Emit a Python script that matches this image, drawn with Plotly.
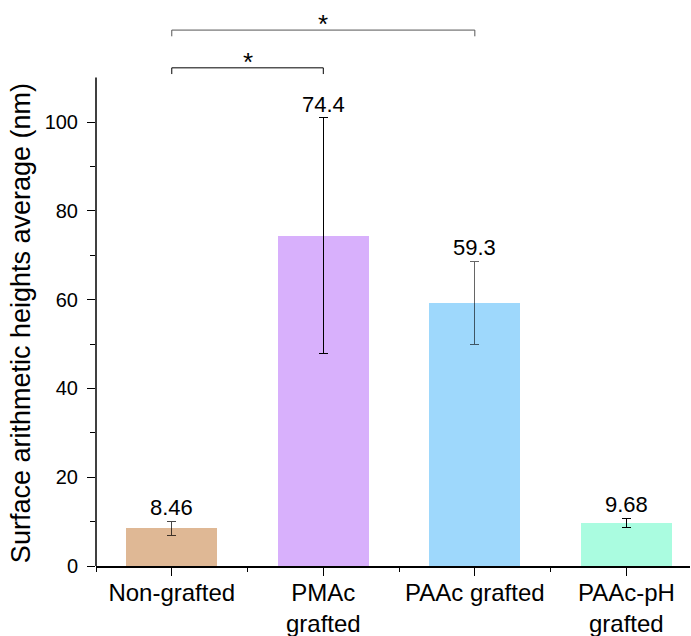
import plotly.graph_objects as go

# ---- data ----
categories = ["Non-grafted", "PMAc<br>grafted", "PAAc grafted", "PAAc-pH<br>grafted"]
values = [8.46, 74.4, 59.3, 9.68]
errors = [1.65, 26.6, 9.3, 1.05]
value_labels = ["8.46", "74.4", "59.3", "9.68"]
bar_colors = ["#DFB895", "#D8B0FC", "#9ED8FC", "#AAFCE0"]
err_colors = ["rgba(0,0,0,0.72)", "#000000", "rgba(0,0,0,0.6)", "#000000"]
y_ticks = [0, 20, 40, 60, 80, 100]
y_minor = [10, 30, 50, 70, 90]
sig_pairs = [(0, 1), (0, 2)]
sig_marks = ["*", "*"]

# ---- layout constants ----
FONT = "Arial, Liberation Sans, sans-serif"
X_RANGE = [-0.5, 3.42]
Y_RANGE = [0, 125]
Y_AXIS_TOP = 110
bracket_heights = [112.2, 120.7]
bracket_colors = ["#000000", "#555555"]
leg = 1.4

xs = list(range(len(categories)))
fig = go.Figure()
for i in xs:
    fig.add_trace(go.Bar(
        x=[i], y=[values[i]], width=0.6,
        marker=dict(color=bar_colors[i], line=dict(width=0)),
        error_y=dict(type="data", array=[errors[i]], color=err_colors[i],
                     thickness=1, width=4.5),
        showlegend=False,
    ))

annotations = []
for i in xs:
    annotations.append(dict(
        x=i, y=values[i] + errors[i], xref="x", yref="y",
        text=value_labels[i], showarrow=False, yanchor="bottom", yshift=-1,
        font=dict(family=FONT, size=22, color="#000"),
    ))

shapes = []
for (a, b), h, c, m in zip(sig_pairs, bracket_heights, bracket_colors, sig_marks):
    shapes.append(dict(
        type="path", xref="x", yref="y",
        path=f"M {a},{h-leg} L {a},{h} L {b},{h} L {b},{h-leg}",
        line=dict(color=c, width=1),
    ))
    annotations.append(dict(
        x=(a + b) / 2, y=h, xref="x", yref="y", text=m, showarrow=False,
        yanchor="bottom", yshift=-11,
        font=dict(family=FONT, size=26, color="#000"),
    ))

# y-axis line (only up to 110)
shapes.append(dict(
    type="line", xref="paper", yref="paper",
    x0=0, x1=0, y0=0, y1=Y_AXIS_TOP / Y_RANGE[1],
    line=dict(color="#000", width=1.5),
))

# y-axis title as annotation centered on visible axis
annotations.append(dict(
    x=0, xref="paper", xshift=-75, xanchor="center",
    y=54.7, yref="y", yanchor="middle",
    text="Surface arithmetic heights average (nm)", textangle=-90,
    showarrow=False, font=dict(family=FONT, size=27, color="#000"),
))

fig.update_layout(
    width=691, height=636,
    margin=dict(l=96, r=1, t=11, b=70),
    paper_bgcolor="white", plot_bgcolor="white",
    font=dict(family=FONT, color="#000"),
    shapes=shapes, annotations=annotations,
    bargap=0,
)
fig.update_xaxes(
    range=X_RANGE, tickvals=xs, ticktext=categories,
    automargin=False,
    showline=True, linecolor="#000", linewidth=1.5,
    ticks="outside", ticklen=8, tickwidth=1, tickcolor="#000",
    ticklabelstandoff=-4,
    minor=dict(tickmode="linear", tick0=-0.5, dtick=1, ticks="outside",
               ticklen=4, tickwidth=1, tickcolor="#000"),
    tickfont=dict(family=FONT, size=24, color="#000"),
    showgrid=False, zeroline=False,
)
fig.update_yaxes(
    range=Y_RANGE, tickvals=y_ticks,
    automargin=False,
    showline=False,
    ticks="outside", ticklen=8, tickwidth=1, tickcolor="#000",
    ticklabelstandoff=5,
    minor=dict(tickvals=y_minor, ticks="outside", ticklen=5, tickwidth=1,
               tickcolor="#000"),
    tickfont=dict(family=FONT, size=20, color="#000"),
    showgrid=False, zeroline=False,
)

fig.write_html("out.html")
